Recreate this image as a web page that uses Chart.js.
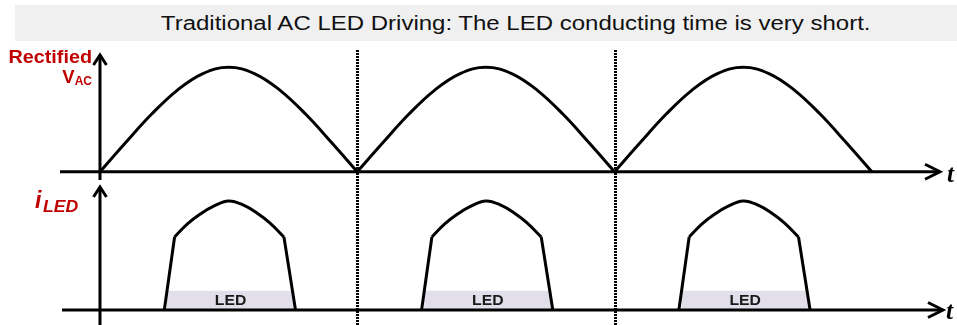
<!DOCTYPE html>
<html>
<head>
<meta charset="utf-8">
<script src="https://cdn.jsdelivr.net/npm/chart.js@4.4.1/dist/chart.umd.min.js"></script>
<style>
  body { margin: 0; background: #fff; }
  #wrap { position: relative; width: 957px; height: 325px; }
  #title {
    position: absolute; left: 15px; top: 5px; width: 882px; height: 36px;
    padding-left: 60px; background: #f0f0f0; color: #111;
    font: 20px "Liberation Sans", Arial, sans-serif;
    text-align: center; line-height: 36px;
  }
  #title span { display: inline-block; transform: scaleX(1.2); }
  canvas { position: absolute; left: 0; top: 0; }
</style>
</head>
<body>
<div id="wrap">
  <div id="title"><span>Traditional AC LED Driving: The LED conducting time is very short.</span></div>
  <canvas id="wave" width="957" height="325"></canvas>
</div>
<script>
// time in ms, one half-cycle = 10 ms
const halfCycleStart = [0, 10, 20];
const dividerT = [10, 20];

// rectified V_AC, one arch (normalised)
const archT = [0, 1, 2, 3, 4, 5, 6, 7, 8, 9, 10];
const vacArch = [0, 0.28, 0.55, 0.78, 0.94, 1, 0.94, 0.78, 0.55, 0.28, 0];

// i_LED pulse: steep edges + rounded top
const rampT = [2.5, 2.9, null, 7.15, 7.6];
const rampV = [0, 0.67, null, 0.67, 0];
const topT = [2.9, 3.4, 3.9, 4.4, 5.0, 5.6, 6.1, 6.6, 7.15];
const topV = [0.67, 0.79, 0.88, 0.95, 1.0, 0.96, 0.89, 0.80, 0.67];

// shaded "LED" band under each pulse
const ledBandT = [2.6, 7.55];
const ledBandV = [0.177, 0.177];

function pts(ts, vs, off) {
    return ts.map((t, i) => t === null ? { x: null, y: null } : { x: t + off, y: vs[i] });
}

const datasets = [];
halfCycleStart.forEach(off => {
    datasets.push({
        data: pts(archT, vacArch, off), yAxisID: 'yV',
        borderColor: '#000', borderWidth: 3, tension: 0.4, order: 0
    });
    datasets.push({
        data: pts(rampT, rampV, off), yAxisID: 'yI', spanGaps: false,
        borderColor: '#000', borderWidth: 3, tension: 0, order: 0
    });
    datasets.push({
        data: pts(topT, topV, off), yAxisID: 'yI',
        borderColor: '#000', borderWidth: 3, tension: 0.4, order: 0
    });
    datasets.push({
        data: pts(ledBandT, ledBandV, off), yAxisID: 'yI',
        borderWidth: 0, borderColor: 'rgba(0,0,0,0)',
        backgroundColor: '#e2deea', fill: 'origin', tension: 0, order: 5
    });
});

function arrow(ctx, x, y, dir) {
    ctx.beginPath();
    if (dir === 'up') {
        ctx.moveTo(x - 6.5, y + 10); ctx.lineTo(x, y); ctx.lineTo(x + 6.5, y + 10);
    } else {
        ctx.moveTo(x - 15, y - 7.5); ctx.lineTo(x, y); ctx.lineTo(x - 15, y + 7.5);
    }
    ctx.stroke();
}

// text stretched a little wider, like the original slide
function wideText(ctx, str, x, y, sx) {
    ctx.save();
    ctx.translate(x, y);
    ctx.scale(sx, 1);
    ctx.fillText(str, 0, 0);
    ctx.restore();
}

const drawing = {
    id: 'drawing',
    beforeDatasetsDraw(chart) {
        const ctx = chart.ctx, x = chart.scales.x;
        ctx.save();
        ctx.strokeStyle = '#000';
        ctx.lineWidth = 3;
        ctx.setLineDash([2, 1]);
        dividerT.forEach(t => {
            const px = Math.round(x.getPixelForValue(t)) + 0.5;
            ctx.beginPath(); ctx.moveTo(px, 50); ctx.lineTo(px, 325); ctx.stroke();
        });
        ctx.restore();
    },
    afterDatasetsDraw(chart) {
        const ctx = chart.ctx, x = chart.scales.x, yV = chart.scales.yV, yI = chart.scales.yI;
        const x0 = x.getPixelForValue(0), v0 = yV.getPixelForValue(0), i0 = yI.getPixelForValue(0);
        ctx.save();
        ctx.strokeStyle = '#000';
        ctx.lineWidth = 3;
        ctx.lineJoin = 'miter';
        // axes
        ctx.beginPath();
        ctx.moveTo(60, v0); ctx.lineTo(940, v0);
        ctx.moveTo(x0, 55); ctx.lineTo(x0, 180);
        ctx.moveTo(62, i0); ctx.lineTo(943, i0);
        ctx.moveTo(x0, 187); ctx.lineTo(x0, 325);
        ctx.stroke();
        arrow(ctx, x0, 55, 'up');
        arrow(ctx, x0, 187, 'up');
        arrow(ctx, 940, v0, 'right');
        arrow(ctx, 943, i0, 'right');

        // t labels
        ctx.fillStyle = '#000';
        ctx.font = 'bold italic 25px "Liberation Serif", "Times New Roman", serif';
        ctx.textAlign = 'left';
        ctx.textBaseline = 'alphabetic';
        ctx.fillText('t', 947, v0 + 10);
        ctx.fillText('t', 946, i0 + 9);

        // LED text in bands
        ctx.font = 'bold 15px "Liberation Sans", Arial, sans-serif';
        ctx.textAlign = 'center';
        ctx.fillStyle = '#1a1a1a';
        halfCycleStart.forEach(off => {
            const cx = x.getPixelForValue(off + (ledBandT[0] + ledBandT[1]) / 2);
            wideText(ctx, 'LED', cx, i0 - 5, 1.05);
        });

        // axis names
        ctx.fillStyle = '#c00000';
        ctx.textAlign = 'right';
        ctx.font = 'bold 18.5px "Liberation Sans", Arial, sans-serif';
        wideText(ctx, 'Rectified', 92, 63, 1.07);
        ctx.font = 'bold 12px "Liberation Sans", Arial, sans-serif';
        ctx.fillText('AC', 92, 85);
        const acW = ctx.measureText('AC').width;
        ctx.font = 'bold 18.5px "Liberation Sans", Arial, sans-serif';
        ctx.fillText('V', 92 - acW, 83);

        ctx.textAlign = 'left';
        ctx.font = 'bold italic 23px "Liberation Sans", Arial, sans-serif';
        ctx.fillText('i', 35, 208);
        ctx.font = 'bold italic 16px "Liberation Sans", Arial, sans-serif';
        wideText(ctx, 'LED', 43, 212, 1.1);
        ctx.restore();
    }
};

new Chart(document.getElementById('wave'), {
    type: 'line',
    data: { datasets: datasets },
    options: {
        responsive: false,
        animation: false,
        layout: { padding: 0 },
        elements: { point: { radius: 0 } },
        scales: {
            x: { type: 'linear', min: -3.886, max: 33.31, display: false },
            yV: { type: 'linear', min: -1.468, max: 1.645, display: false },
            yI: { type: 'linear', min: -0.1376, max: 2.844, display: false }
        },
        plugins: {
            legend: { display: false },
            tooltip: { enabled: false }
        }
    },
    plugins: [drawing]
});
</script>
</body>
</html>
